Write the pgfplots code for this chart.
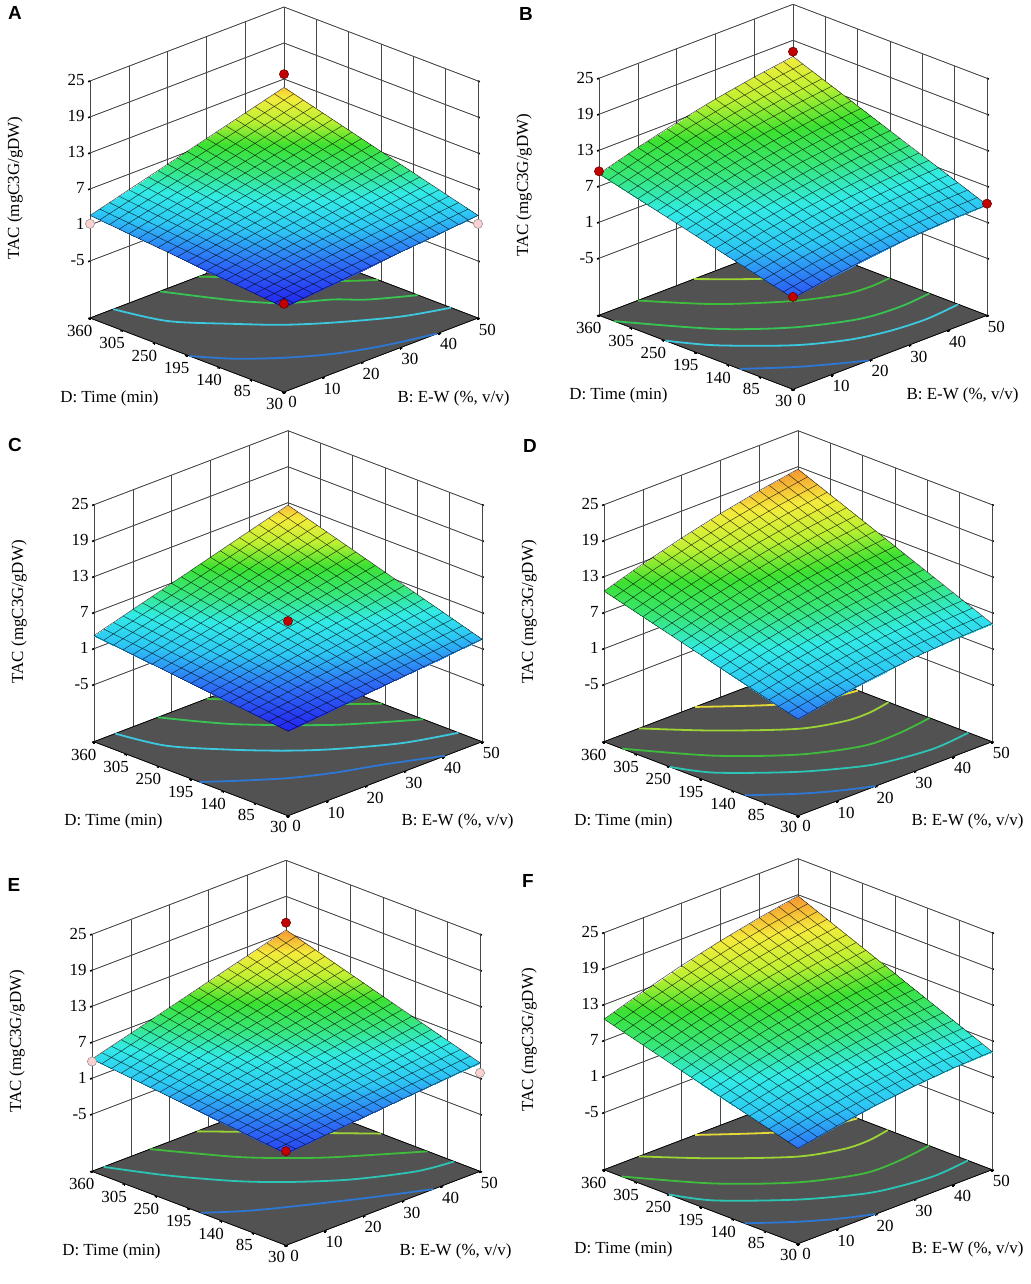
\documentclass[border=0pt]{standalone}
\usepackage{fontspec}
\setmainfont{Liberation Serif}
\newfontfamily\lsans{Liberation Sans}
\usepackage{pgfplots}
\pgfplotsset{compat=1.18}
\definecolor{floorgray}{RGB}{82,82,82}
\definecolor{gridgray}{RGB}{70,70,70}
\definecolor{cblue}{RGB}{44,120,212}
\definecolor{ccyan}{RGB}{60,200,222}
\definecolor{cteal}{RGB}{44,196,180}
\definecolor{cgreenA}{RGB}{56,196,84}
\definecolor{cgreenB}{RGB}{64,188,60}
\definecolor{cygreen}{RGB}{156,212,52}
\definecolor{cyellow}{RGB}{230,218,56}
\definecolor{dotred}{RGB}{196,0,0}
\definecolor{dotpink}{RGB}{250,208,208}
\newcommand\lab{\fontsize{17}{19}\selectfont}
\pgfplotsset{
  colormap={de}{rgb255=(35,35,240) rgb255=(45,110,245) rgb255=(45,200,245) rgb255=(50,235,230) rgb255=(55,230,120) rgb255=(60,225,50) rgb255=(190,240,50) rgb255=(245,235,60) rgb255=(245,150,50)},
  panel/.style={
    anchor=origin,
    x={(3.88bp,1.48bp)}, y={(-0.587879bp,0.224242bp)}, z={(0bp,6bp)},
    xmin=0, xmax=50, ymin=30, ymax=360, zmin=-14.5, zmax=25,
    xtick={0,10,20,30,40,50}, xticklabels={0,10,20,30,40,50},
    ytick={30,85,140,195,250,305,360}, yticklabels={30,85,140,195,250,305,360},
    ztick={-5,1,7,13,19,25}, zticklabels={-5,1,7,13,19,25},
    grid=major,
    major grid style={draw=gridgray, line width=0.6bp},
    axis line style={draw=gridgray, line width=0.6bp},
    tick pos=left,
    tick align=outside, major tick length=2bp,
    tick style={black, line width=1.6bp},
    tick label style={font=\lab},
    colormap name=de,
    clip=false,
  },
  ml/.style={black, opacity=0.72, line width=0.5bp, mark=none, unbounded coords=jump},
  ctr/.style={line width=1.8bp, mark=none, smooth},
  flr/.style={fill=floorgray, draw=black, line width=0.7bp, mark=none},
  reddot/.style={only marks, mark=*, mark size=4.6bp, mark options={fill=dotred, draw=red!35!black, line width=0.5bp}},
  pinkdot/.style={only marks, mark=*, mark size=4.6bp, mark options={fill=dotpink, draw=black!45, line width=0.5bp}},
}
% horizontal wall grid lines (z = -5,1,7,13,19) of a panel whose (B=0,D=30,z=0) point is at (#1bp,#2bp)
\newcommand\wallgrid[2]{%
\foreach \zz in {-30,6,42,78,114}{%
\draw[gridgray, line width=0.6bp] ({(#1-194)*1bp},{(#2+74+\zz)*1bp}) -- ({(#1)*1bp},{(#2+148+\zz)*1bp}) -- ({(#1+194)*1bp},{(#2+74+\zz)*1bp});}}
\newcommand\labels{%
\node[font=\lab, anchor=west] at (axis cs:28.35,30,-22.5) {B: E-W (\%, v/v)};
\node[font=\lab, anchor=east] at (axis cs:0,237.5,-23.25) {D: Time (min)};
\node[font=\lab, rotate=90] at (axis cs:0,487.6,2.4) {TAC (mgC3G/gDW)};}
\begin{document}
\begin{tikzpicture}
\useasboundingbox (0,0) rectangle (1031bp,-1284bp);
\wallgrid{284}{-305}
\wallgrid{793}{-302.3}
\wallgrid{288}{-728.7}
\wallgrid{798}{-728.7}
\wallgrid{286}{-1158.3}
\wallgrid{798}{-1156.7}
\node[font=\lsans\bfseries\fontsize{19}{21}\selectfont] at (15bp,-13bp) {A};
\node[font=\lsans\bfseries\fontsize{19}{21}\selectfont] at (526bp,-14bp) {B};
\node[font=\lsans\bfseries\fontsize{19}{21}\selectfont] at (15bp,-445bp) {C};
\node[font=\lsans\bfseries\fontsize{19}{21}\selectfont] at (530bp,-446bp) {D};
\node[font=\lsans\bfseries\fontsize{19}{21}\selectfont] at (14bp,-885bp) {E};
\node[font=\lsans\bfseries\fontsize{19}{21}\selectfont] at (528bp,-881bp) {F};

% ================= A =================
\begin{axis}[panel, at={(284bp,-305bp)}, point meta min=-0.4, point meta max=12.5]
\addplot3[flr] coordinates {(0,30,-14.5)(50,30,-14.5)(50,360,-14.5)(0,360,-14.5)(0,30,-14.5)};
\addplot3[ctr, cblue] coordinates {(0,190.7,-14.5)(4.8,146.8,-14.5)(11.6,106.2,-14.5)(19.4,72.6,-14.5)(28.5,48.5,-14.5)(39.5,30,-14.5)};
\addplot3[ctr, ccyan] coordinates {(6,360,-14.5)(9,287,-14.5)(16.5,225,-14.5)(22.7,180,-14.5)(30,142,-14.5)(40.5,99,-14.5)(50,76,-14.5)};
\addplot3[ctr, cgreenA] coordinates {(18,360,-14.5)(24.5,277,-14.5)(30,228,-14.5)(37.5,195,-14.5)(42,165,-14.5)(50,132,-14.5)};
\addplot3[ctr, cgreenB] coordinates {(28,360,-14.5)(33,322,-14.5)(44,235,-14.5)(50,200,-14.5)};
\addplot3[surf, shader=interp, mesh/rows=6, mesh/cols=6] coordinates {
(0,30,-0.4)(10,30,0.2)(20,30,0.8)(30,30,1.4)(40,30,2.0)(50,30,2.6)
(0,96,0.2)(10,96,1.04)(20,96,1.88)(30,96,2.72)(40,96,3.56)(50,96,4.4)
(0,162,0.8)(10,162,1.88)(20,162,2.96)(30,162,4.04)(40,162,5.12)(50,162,6.2)
(0,228,1.4)(10,228,2.72)(20,228,4.04)(30,228,5.36)(40,228,6.68)(50,228,8.0)
(0,294,2.0)(10,294,3.56)(20,294,5.12)(30,294,6.68)(40,294,8.24)(50,294,9.8)
(0,360,2.6)(10,360,4.4)(20,360,6.2)(30,360,8.0)(40,360,9.8)(50,360,11.6)};
\addplot3[ml] coordinates {
(0,30,-0.4)(0,360,2.6)(nan,nan,nan)(2.5,30,-0.25)(2.5,360,3.05)(nan,nan,nan)
(5,30,-0.1)(5,360,3.5)(nan,nan,nan)(7.5,30,0.05)(7.5,360,3.95)(nan,nan,nan)
(10,30,0.2)(10,360,4.4)(nan,nan,nan)(12.5,30,0.35)(12.5,360,4.85)(nan,nan,nan)
(15,30,0.5)(15,360,5.3)(nan,nan,nan)(17.5,30,0.65)(17.5,360,5.75)(nan,nan,nan)
(20,30,0.8)(20,360,6.2)(nan,nan,nan)(22.5,30,0.95)(22.5,360,6.65)(nan,nan,nan)
(25,30,1.1)(25,360,7.1)(nan,nan,nan)(27.5,30,1.25)(27.5,360,7.55)(nan,nan,nan)
(30,30,1.4)(30,360,8.0)(nan,nan,nan)(32.5,30,1.55)(32.5,360,8.45)(nan,nan,nan)
(35,30,1.7)(35,360,8.9)(nan,nan,nan)(37.5,30,1.85)(37.5,360,9.35)(nan,nan,nan)
(40,30,2.0)(40,360,9.8)(nan,nan,nan)(42.5,30,2.15)(42.5,360,10.25)(nan,nan,nan)
(45,30,2.3)(45,360,10.7)(nan,nan,nan)(47.5,30,2.45)(47.5,360,11.15)(nan,nan,nan)
(50,30,2.6)(50,360,11.6)};
\addplot3[ml] coordinates {
(0,30,-0.4)(50,30,2.6)(nan,nan,nan)(0,46.5,-0.25)(50,46.5,3.05)(nan,nan,nan)
(0,63,-0.1)(50,63,3.5)(nan,nan,nan)(0,79.5,0.05)(50,79.5,3.95)(nan,nan,nan)
(0,96,0.2)(50,96,4.4)(nan,nan,nan)(0,112.5,0.35)(50,112.5,4.85)(nan,nan,nan)
(0,129,0.5)(50,129,5.3)(nan,nan,nan)(0,145.5,0.65)(50,145.5,5.75)(nan,nan,nan)
(0,162,0.8)(50,162,6.2)(nan,nan,nan)(0,178.5,0.95)(50,178.5,6.65)(nan,nan,nan)
(0,195,1.1)(50,195,7.1)(nan,nan,nan)(0,211.5,1.25)(50,211.5,7.55)(nan,nan,nan)
(0,228,1.4)(50,228,8.0)(nan,nan,nan)(0,244.5,1.55)(50,244.5,8.45)(nan,nan,nan)
(0,261,1.7)(50,261,8.9)(nan,nan,nan)(0,277.5,1.85)(50,277.5,9.35)(nan,nan,nan)
(0,294,2.0)(50,294,9.8)(nan,nan,nan)(0,310.5,2.15)(50,310.5,10.25)(nan,nan,nan)
(0,327,2.3)(50,327,10.7)(nan,nan,nan)(0,343.5,2.45)(50,343.5,11.15)(nan,nan,nan)
(0,360,2.6)(50,360,11.6)};
\addplot3[pinkdot] coordinates {(0,360,1.2)(50,30,1.2)};
\addplot3[reddot] coordinates {(0,30,0.2)(50,360,13.8)};
\labels
\end{axis}

% ================= B =================
\begin{axis}[panel, at={(793bp,-302.3bp)}, point meta min=-0.9, point meta max=18.9]
\addplot3[flr] coordinates {(0,30,-14.5)(50,30,-14.5)(50,360,-14.5)(0,360,-14.5)(0,30,-14.5)};
\addplot3[ctr, cblue] coordinates {(0,121,-14.5)(7.5,79.5,-14.5)(14,51,-14.5)(19.5,30,-14.5)};
\addplot3[ctr, ccyan] coordinates {(0,247,-14.5)(4.9,194,-14.5)(14.9,128,-14.5)(23.9,93,-14.5)(32,78,-14.5)(41,73,-14.5)(50,79,-14.5)};
\addplot3[ctr, cgreenA] coordinates {(0,334,-14.5)(10.4,231,-14.5)(20.9,168,-14.5)(32.5,130,-14.5)(42,123,-14.5)(50,128,-14.5)};
\addplot3[ctr, cgreenB] coordinates {(10,360,-14.5)(18.8,286,-14.5)(29.8,227,-14.5)(38.8,198,-14.5)(45,193,-14.5)(50,196,-14.5)};
\addplot3[ctr, cygreen] coordinates {(24.5,360,-14.5)(33.3,303,-14.5)(42,268,-14.5)(50,254,-14.5)};
\addplot3[surf, shader=interp, mesh/rows=6, mesh/cols=6] coordinates {
(0,30,0.7)(10,30,1.82)(20,30,2.7)(30,30,3.34)(40,30,3.74)(50,30,3.9)
(0,96,2.38)(10,96,3.66)(20,96,4.7)(30,96,5.5)(40,96,6.06)(50,96,6.38)
(0,162,4.06)(10,162,5.5)(20,162,6.7)(30,162,7.66)(40,162,8.38)(50,162,8.86)
(0,228,5.74)(10,228,7.34)(20,228,8.7)(30,228,9.82)(40,228,10.7)(50,228,11.34)
(0,294,7.42)(10,294,9.18)(20,294,10.7)(30,294,11.98)(40,294,13.02)(50,294,13.82)
(0,360,9.1)(10,360,11.02)(20,360,12.7)(30,360,14.14)(40,360,15.34)(50,360,16.3)};
\addplot3[ml] coordinates {
(0,30,0.7)(0,360,9.1)(nan,nan,nan)(2.5,30,1.0)(2.5,360,9.6)(nan,nan,nan)
(5,30,1.29)(5,360,10.09)(nan,nan,nan)(7.5,30,1.56)(7.5,360,10.56)(nan,nan,nan)
(10,30,1.82)(10,360,11.02)(nan,nan,nan)(12.5,30,2.06)(12.5,360,11.46)(nan,nan,nan)
(15,30,2.29)(15,360,11.89)(nan,nan,nan)(17.5,30,2.5)(17.5,360,12.3)(nan,nan,nan)
(20,30,2.7)(20,360,12.7)(nan,nan,nan)(22.5,30,2.88)(22.5,360,13.08)(nan,nan,nan)
(25,30,3.05)(25,360,13.45)(nan,nan,nan)(27.5,30,3.2)(27.5,360,13.8)(nan,nan,nan)
(30,30,3.34)(30,360,14.14)(nan,nan,nan)(32.5,30,3.46)(32.5,360,14.46)(nan,nan,nan)
(35,30,3.57)(35,360,14.77)(nan,nan,nan)(37.5,30,3.66)(37.5,360,15.06)(nan,nan,nan)
(40,30,3.74)(40,360,15.34)(nan,nan,nan)(42.5,30,3.8)(42.5,360,15.6)(nan,nan,nan)
(45,30,3.85)(45,360,15.85)(nan,nan,nan)(47.5,30,3.88)(47.5,360,16.08)(nan,nan,nan)
(50,30,3.9)(50,360,16.3)};
\addplot3[ml] coordinates {
(0,30,0.7)(10,30,1.82)(20,30,2.7)(30,30,3.34)(40,30,3.74)(50,30,3.9)(nan,nan,nan)
(0,46.5,1.12)(10,46.5,2.28)(20,46.5,3.2)(30,46.5,3.88)(40,46.5,4.32)(50,46.5,4.52)(nan,nan,nan)
(0,63,1.54)(10,63,2.74)(20,63,3.7)(30,63,4.42)(40,63,4.9)(50,63,5.14)(nan,nan,nan)
(0,79.5,1.96)(10,79.5,3.2)(20,79.5,4.2)(30,79.5,4.96)(40,79.5,5.48)(50,79.5,5.76)(nan,nan,nan)
(0,96,2.38)(10,96,3.66)(20,96,4.7)(30,96,5.5)(40,96,6.06)(50,96,6.38)(nan,nan,nan)
(0,112.5,2.8)(10,112.5,4.12)(20,112.5,5.2)(30,112.5,6.04)(40,112.5,6.64)(50,112.5,7.0)(nan,nan,nan)
(0,129,3.22)(10,129,4.58)(20,129,5.7)(30,129,6.58)(40,129,7.22)(50,129,7.62)(nan,nan,nan)
(0,145.5,3.64)(10,145.5,5.04)(20,145.5,6.2)(30,145.5,7.12)(40,145.5,7.8)(50,145.5,8.24)(nan,nan,nan)
(0,162,4.06)(10,162,5.5)(20,162,6.7)(30,162,7.66)(40,162,8.38)(50,162,8.86)(nan,nan,nan)
(0,178.5,4.48)(10,178.5,5.96)(20,178.5,7.2)(30,178.5,8.2)(40,178.5,8.96)(50,178.5,9.48)(nan,nan,nan)
(0,195,4.9)(10,195,6.42)(20,195,7.7)(30,195,8.74)(40,195,9.54)(50,195,10.1)(nan,nan,nan)
(0,211.5,5.32)(10,211.5,6.88)(20,211.5,8.2)(30,211.5,9.28)(40,211.5,10.12)(50,211.5,10.72)(nan,nan,nan)
(0,228,5.74)(10,228,7.34)(20,228,8.7)(30,228,9.82)(40,228,10.7)(50,228,11.34)(nan,nan,nan)
(0,244.5,6.16)(10,244.5,7.8)(20,244.5,9.2)(30,244.5,10.36)(40,244.5,11.28)(50,244.5,11.96)(nan,nan,nan)
(0,261,6.58)(10,261,8.26)(20,261,9.7)(30,261,10.9)(40,261,11.86)(50,261,12.58)(nan,nan,nan)
(0,277.5,7.0)(10,277.5,8.72)(20,277.5,10.2)(30,277.5,11.44)(40,277.5,12.44)(50,277.5,13.2)(nan,nan,nan)
(0,294,7.42)(10,294,9.18)(20,294,10.7)(30,294,11.98)(40,294,13.02)(50,294,13.82)(nan,nan,nan)
(0,310.5,7.84)(10,310.5,9.64)(20,310.5,11.2)(30,310.5,12.52)(40,310.5,13.6)(50,310.5,14.44)(nan,nan,nan)
(0,327,8.26)(10,327,10.1)(20,327,11.7)(30,327,13.06)(40,327,14.18)(50,327,15.06)(nan,nan,nan)
(0,343.5,8.68)(10,343.5,10.56)(20,343.5,12.2)(30,343.5,13.6)(40,343.5,14.76)(50,343.5,15.68)(nan,nan,nan)
(0,360,9.1)(10,360,11.02)(20,360,12.7)(30,360,14.14)(40,360,15.34)(50,360,16.3)};
\addplot3[reddot] coordinates {(0,30,0.9)(0,360,9.5)(50,30,4.1)(50,360,17.1)};
\labels
\end{axis}

% ================= C =================
\begin{axis}[panel, at={(288bp,-728.7bp)}, point meta min=-0.4, point meta max=13.3]
\addplot3[flr] coordinates {(0,30,-14.5)(50,30,-14.5)(50,360,-14.5)(0,360,-14.5)(0,30,-14.5)};
\addplot3[ctr, cblue] coordinates {(0,180.5,-14.5)(5.7,148.8,-14.5)(12.7,113.8,-14.5)(20.5,86.4,-14.5)(29.8,62.3,-14.5)(40.5,30,-14.5)};
\addplot3[ctr, ccyan] coordinates {(5.5,360,-14.5)(8,289,-14.5)(15.3,223,-14.5)(22,175,-14.5)(28.5,139,-14.5)(39.2,95,-14.5)(50,70,-14.5)};
\addplot3[ctr, cgreenA] coordinates {(16.5,360,-14.5)(24,280,-14.5)(36.7,193,-14.5)(50,130,-14.5)};
\addplot3[ctr, cgreenB] coordinates {(29,360,-14.5)(34,320,-14.5)(44,238,-14.5)(50,200,-14.5)};
\addplot3[surf, shader=interp, mesh/rows=6, mesh/cols=6] coordinates {
(0,30,-0.4)(10,30,0.2)(20,30,0.8)(30,30,1.4)(40,30,2.0)(50,30,2.6)
(0,96,0.32)(10,96,1.176)(20,96,2.032)(30,96,2.888)(40,96,3.744)(50,96,4.6)
(0,162,1.04)(10,162,2.152)(20,162,3.264)(30,162,4.376)(40,162,5.488)(50,162,6.6)
(0,228,1.76)(10,228,3.128)(20,228,4.496)(30,228,5.864)(40,228,7.232)(50,228,8.6)
(0,294,2.48)(10,294,4.104)(20,294,5.728)(30,294,7.352)(40,294,8.976)(50,294,10.6)
(0,360,3.2)(10,360,5.08)(20,360,6.96)(30,360,8.84)(40,360,10.72)(50,360,12.6)};
\addplot3[ml] coordinates {
(0,30,-0.4)(0,360,3.2)(nan,nan,nan)(2.5,30,-0.25)(2.5,360,3.67)(nan,nan,nan)
(5,30,-0.1)(5,360,4.14)(nan,nan,nan)(7.5,30,0.05)(7.5,360,4.61)(nan,nan,nan)
(10,30,0.2)(10,360,5.08)(nan,nan,nan)(12.5,30,0.35)(12.5,360,5.55)(nan,nan,nan)
(15,30,0.5)(15,360,6.02)(nan,nan,nan)(17.5,30,0.65)(17.5,360,6.49)(nan,nan,nan)
(20,30,0.8)(20,360,6.96)(nan,nan,nan)(22.5,30,0.95)(22.5,360,7.43)(nan,nan,nan)
(25,30,1.1)(25,360,7.9)(nan,nan,nan)(27.5,30,1.25)(27.5,360,8.37)(nan,nan,nan)
(30,30,1.4)(30,360,8.84)(nan,nan,nan)(32.5,30,1.55)(32.5,360,9.31)(nan,nan,nan)
(35,30,1.7)(35,360,9.78)(nan,nan,nan)(37.5,30,1.85)(37.5,360,10.25)(nan,nan,nan)
(40,30,2.0)(40,360,10.72)(nan,nan,nan)(42.5,30,2.15)(42.5,360,11.19)(nan,nan,nan)
(45,30,2.3)(45,360,11.66)(nan,nan,nan)(47.5,30,2.45)(47.5,360,12.13)(nan,nan,nan)
(50,30,2.6)(50,360,12.6)};
\addplot3[ml] coordinates {
(0,30,-0.4)(50,30,2.6)(nan,nan,nan)(0,46.5,-0.22)(50,46.5,3.1)(nan,nan,nan)
(0,63,-0.04)(50,63,3.6)(nan,nan,nan)(0,79.5,0.14)(50,79.5,4.1)(nan,nan,nan)
(0,96,0.32)(50,96,4.6)(nan,nan,nan)(0,112.5,0.5)(50,112.5,5.1)(nan,nan,nan)
(0,129,0.68)(50,129,5.6)(nan,nan,nan)(0,145.5,0.86)(50,145.5,6.1)(nan,nan,nan)
(0,162,1.04)(50,162,6.6)(nan,nan,nan)(0,178.5,1.22)(50,178.5,7.1)(nan,nan,nan)
(0,195,1.4)(50,195,7.6)(nan,nan,nan)(0,211.5,1.58)(50,211.5,8.1)(nan,nan,nan)
(0,228,1.76)(50,228,8.6)(nan,nan,nan)(0,244.5,1.94)(50,244.5,9.1)(nan,nan,nan)
(0,261,2.12)(50,261,9.6)(nan,nan,nan)(0,277.5,2.3)(50,277.5,10.1)(nan,nan,nan)
(0,294,2.48)(50,294,10.6)(nan,nan,nan)(0,310.5,2.66)(50,310.5,11.1)(nan,nan,nan)
(0,327,2.84)(50,327,11.6)(nan,nan,nan)(0,343.5,3.02)(50,343.5,12.1)(nan,nan,nan)
(0,360,3.2)(50,360,12.6)};
\addplot3[reddot] coordinates {(25,195,5.6)};
\labels
\end{axis}

% ================= D =================
\begin{axis}[panel, at={(798bp,-728.7bp)}, point meta min=-0.9, point meta max=18.6]
\addplot3[flr] coordinates {(0,30,-14.5)(50,30,-14.5)(50,360,-14.5)(0,360,-14.5)(0,30,-14.5)};
\addplot3[ctr, cblue] coordinates {(0,121,-14.5)(7.4,79,-14.5)(13.5,52,-14.5)(20,30,-14.5)};
\addplot3[ctr, cteal] coordinates {(0,248,-14.5)(3.8,197,-14.5)(14.8,128,-14.5)(25.5,84,-14.5)(33,70,-14.5)(41,64,-14.5)(50,70,-14.5)};
\addplot3[ctr, cgreenB] coordinates {(0,329,-14.5)(9.5,235,-14.5)(20.7,166,-14.5)(32,130,-14.5)(41,128,-14.5)(50,136,-14.5)};
\addplot3[ctr, cygreen] coordinates {(9,360,-14.5)(18,291,-14.5)(29.3,224,-14.5)(38,201,-14.5)(44,199,-14.5)(50,206,-14.5)};
\addplot3[ctr, cyellow] coordinates {(23.5,360,-14.5)(34.5,297,-14.5)(43,268,-14.5)(50,258,-14.5)};
\addplot3[surf, shader=interp, mesh/rows=6, mesh/cols=6] coordinates {
(0,30,1.6)(10,30,2.8)(20,30,3.76)(30,30,4.48)(40,30,4.96)(50,30,5.2)
(0,96,3.4)(10,96,4.776)(20,96,5.912)(30,96,6.808)(40,96,7.464)(50,96,7.88)
(0,162,5.2)(10,162,6.752)(20,162,8.064)(30,162,9.136)(40,162,9.968)(50,162,10.56)
(0,228,7.0)(10,228,8.728)(20,228,10.216)(30,228,11.464)(40,228,12.472)(50,228,13.24)
(0,294,8.8)(10,294,10.704)(20,294,12.368)(30,294,13.792)(40,294,14.976)(50,294,15.92)
(0,360,10.6)(10,360,12.68)(20,360,14.52)(30,360,16.12)(40,360,17.48)(50,360,18.6)};
\addplot3[ml] coordinates {
(0,30,1.6)(0,360,10.6)(nan,nan,nan)(2.5,30,1.92)(2.5,360,11.14)(nan,nan,nan)
(5,30,2.23)(5,360,11.67)(nan,nan,nan)(7.5,30,2.52)(7.5,360,12.18)(nan,nan,nan)
(10,30,2.8)(10,360,12.68)(nan,nan,nan)(12.5,30,3.06)(12.5,360,13.16)(nan,nan,nan)
(15,30,3.31)(15,360,13.63)(nan,nan,nan)(17.5,30,3.54)(17.5,360,14.08)(nan,nan,nan)
(20,30,3.76)(20,360,14.52)(nan,nan,nan)(22.5,30,3.96)(22.5,360,14.94)(nan,nan,nan)
(25,30,4.15)(25,360,15.35)(nan,nan,nan)(27.5,30,4.32)(27.5,360,15.74)(nan,nan,nan)
(30,30,4.48)(30,360,16.12)(nan,nan,nan)(32.5,30,4.62)(32.5,360,16.48)(nan,nan,nan)
(35,30,4.75)(35,360,16.83)(nan,nan,nan)(37.5,30,4.86)(37.5,360,17.16)(nan,nan,nan)
(40,30,4.96)(40,360,17.48)(nan,nan,nan)(42.5,30,5.04)(42.5,360,17.78)(nan,nan,nan)
(45,30,5.11)(45,360,18.07)(nan,nan,nan)(47.5,30,5.16)(47.5,360,18.34)(nan,nan,nan)
(50,30,5.2)(50,360,18.6)};
\addplot3[ml] coordinates {
(0,30,1.6)(10,30,2.8)(20,30,3.76)(30,30,4.48)(40,30,4.96)(50,30,5.2)(nan,nan,nan)
(0,46.5,2.05)(10,46.5,3.294)(20,46.5,4.298)(30,46.5,5.062)(40,46.5,5.586)(50,46.5,5.87)(nan,nan,nan)
(0,63,2.5)(10,63,3.788)(20,63,4.836)(30,63,5.644)(40,63,6.212)(50,63,6.54)(nan,nan,nan)
(0,79.5,2.95)(10,79.5,4.282)(20,79.5,5.374)(30,79.5,6.226)(40,79.5,6.838)(50,79.5,7.21)(nan,nan,nan)
(0,96,3.4)(10,96,4.776)(20,96,5.912)(30,96,6.808)(40,96,7.464)(50,96,7.88)(nan,nan,nan)
(0,112.5,3.85)(10,112.5,5.27)(20,112.5,6.45)(30,112.5,7.39)(40,112.5,8.09)(50,112.5,8.55)(nan,nan,nan)
(0,129,4.3)(10,129,5.764)(20,129,6.988)(30,129,7.972)(40,129,8.716)(50,129,9.22)(nan,nan,nan)
(0,145.5,4.75)(10,145.5,6.258)(20,145.5,7.526)(30,145.5,8.554)(40,145.5,9.342)(50,145.5,9.89)(nan,nan,nan)
(0,162,5.2)(10,162,6.752)(20,162,8.064)(30,162,9.136)(40,162,9.968)(50,162,10.56)(nan,nan,nan)
(0,178.5,5.65)(10,178.5,7.246)(20,178.5,8.602)(30,178.5,9.718)(40,178.5,10.594)(50,178.5,11.23)(nan,nan,nan)
(0,195,6.1)(10,195,7.74)(20,195,9.14)(30,195,10.3)(40,195,11.22)(50,195,11.9)(nan,nan,nan)
(0,211.5,6.55)(10,211.5,8.234)(20,211.5,9.678)(30,211.5,10.882)(40,211.5,11.846)(50,211.5,12.57)(nan,nan,nan)
(0,228,7.0)(10,228,8.728)(20,228,10.216)(30,228,11.464)(40,228,12.472)(50,228,13.24)(nan,nan,nan)
(0,244.5,7.45)(10,244.5,9.222)(20,244.5,10.754)(30,244.5,12.046)(40,244.5,13.098)(50,244.5,13.91)(nan,nan,nan)
(0,261,7.9)(10,261,9.716)(20,261,11.292)(30,261,12.628)(40,261,13.724)(50,261,14.58)(nan,nan,nan)
(0,277.5,8.35)(10,277.5,10.21)(20,277.5,11.83)(30,277.5,13.21)(40,277.5,14.35)(50,277.5,15.25)(nan,nan,nan)
(0,294,8.8)(10,294,10.704)(20,294,12.368)(30,294,13.792)(40,294,14.976)(50,294,15.92)(nan,nan,nan)
(0,310.5,9.25)(10,310.5,11.198)(20,310.5,12.906)(30,310.5,14.374)(40,310.5,15.602)(50,310.5,16.59)(nan,nan,nan)
(0,327,9.7)(10,327,11.692)(20,327,13.444)(30,327,14.956)(40,327,16.228)(50,327,17.26)(nan,nan,nan)
(0,343.5,10.15)(10,343.5,12.186)(20,343.5,13.982)(30,343.5,15.538)(40,343.5,16.854)(50,343.5,17.93)(nan,nan,nan)
(0,360,10.6)(10,360,12.68)(20,360,14.52)(30,360,16.12)(40,360,17.48)(50,360,18.6)};
\labels
\end{axis}

% ================= E =================
\begin{axis}[panel, at={(286bp,-1158.3bp)}, point meta min=0.1, point meta max=13.4]
\addplot3[flr] coordinates {(0,30,-14.5)(50,30,-14.5)(50,360,-14.5)(0,360,-14.5)(0,30,-14.5)};
\addplot3[ctr, cblue] coordinates {(0,175,-14.5)(6,143,-14.5)(12.9,115,-14.5)(26.4,67,-14.5)(38,30,-14.5)};
\addplot3[ctr, cteal] coordinates {(3,360,-14.5)(8.3,287,-14.5)(15,218,-14.5)(21.4,171,-14.5)(30.5,122,-14.5)(41.8,84,-14.5)(50,74,-14.5)};
\addplot3[ctr, cgreenB] coordinates {(15,360,-14.5)(23.2,272,-14.5)(29,228,-14.5)(35.9,186,-14.5)(50,119,-14.5)};
\addplot3[ctr, cygreen] coordinates {(27,360,-14.5)(33,318,-14.5)(44,240,-14.5)(50,198,-14.5)};
\addplot3[surf, shader=interp, mesh/rows=6, mesh/cols=6] coordinates {
(0,30,0.8)(10,30,1.36)(20,30,1.92)(30,30,2.48)(40,30,3.04)(50,30,3.6)
(0,96,1.48)(10,96,2.296)(20,96,3.112)(30,96,3.928)(40,96,4.744)(50,96,5.56)
(0,162,2.16)(10,162,3.232)(20,162,4.304)(30,162,5.376)(40,162,6.448)(50,162,7.52)
(0,228,2.84)(10,228,4.168)(20,228,5.496)(30,228,6.824)(40,228,8.152)(50,228,9.48)
(0,294,3.52)(10,294,5.104)(20,294,6.688)(30,294,8.272)(40,294,9.856)(50,294,11.44)
(0,360,4.2)(10,360,6.04)(20,360,7.88)(30,360,9.72)(40,360,11.56)(50,360,13.4)};
\addplot3[ml] coordinates {
(0,30,0.8)(0,360,4.2)(nan,nan,nan)(2.5,30,0.94)(2.5,360,4.66)(nan,nan,nan)
(5,30,1.08)(5,360,5.12)(nan,nan,nan)(7.5,30,1.22)(7.5,360,5.58)(nan,nan,nan)
(10,30,1.36)(10,360,6.04)(nan,nan,nan)(12.5,30,1.5)(12.5,360,6.5)(nan,nan,nan)
(15,30,1.64)(15,360,6.96)(nan,nan,nan)(17.5,30,1.78)(17.5,360,7.42)(nan,nan,nan)
(20,30,1.92)(20,360,7.88)(nan,nan,nan)(22.5,30,2.06)(22.5,360,8.34)(nan,nan,nan)
(25,30,2.2)(25,360,8.8)(nan,nan,nan)(27.5,30,2.34)(27.5,360,9.26)(nan,nan,nan)
(30,30,2.48)(30,360,9.72)(nan,nan,nan)(32.5,30,2.62)(32.5,360,10.18)(nan,nan,nan)
(35,30,2.76)(35,360,10.64)(nan,nan,nan)(37.5,30,2.9)(37.5,360,11.1)(nan,nan,nan)
(40,30,3.04)(40,360,11.56)(nan,nan,nan)(42.5,30,3.18)(42.5,360,12.02)(nan,nan,nan)
(45,30,3.32)(45,360,12.48)(nan,nan,nan)(47.5,30,3.46)(47.5,360,12.94)(nan,nan,nan)
(50,30,3.6)(50,360,13.4)};
\addplot3[ml] coordinates {
(0,30,0.8)(50,30,3.6)(nan,nan,nan)(0,46.5,0.97)(50,46.5,4.09)(nan,nan,nan)
(0,63,1.14)(50,63,4.58)(nan,nan,nan)(0,79.5,1.31)(50,79.5,5.07)(nan,nan,nan)
(0,96,1.48)(50,96,5.56)(nan,nan,nan)(0,112.5,1.65)(50,112.5,6.05)(nan,nan,nan)
(0,129,1.82)(50,129,6.54)(nan,nan,nan)(0,145.5,1.99)(50,145.5,7.03)(nan,nan,nan)
(0,162,2.16)(50,162,7.52)(nan,nan,nan)(0,178.5,2.33)(50,178.5,8.01)(nan,nan,nan)
(0,195,2.5)(50,195,8.5)(nan,nan,nan)(0,211.5,2.67)(50,211.5,8.99)(nan,nan,nan)
(0,228,2.84)(50,228,9.48)(nan,nan,nan)(0,244.5,3.01)(50,244.5,9.97)(nan,nan,nan)
(0,261,3.18)(50,261,10.46)(nan,nan,nan)(0,277.5,3.35)(50,277.5,10.95)(nan,nan,nan)
(0,294,3.52)(50,294,11.44)(nan,nan,nan)(0,310.5,3.69)(50,310.5,11.93)(nan,nan,nan)
(0,327,3.86)(50,327,12.42)(nan,nan,nan)(0,343.5,4.03)(50,343.5,12.91)(nan,nan,nan)
(0,360,4.2)(50,360,13.4)};
\addplot3[pinkdot] coordinates {(0,360,3.8)(50,30,1.9)};
\addplot3[reddot] coordinates {(0,30,1.2)(50,360,14.6)};
\labels
\end{axis}

% ================= F =================
\begin{axis}[panel, at={(798bp,-1156.7bp)}, point meta min=-1.2, point meta max=18.8]
\addplot3[flr] coordinates {(0,30,-14.5)(50,30,-14.5)(50,360,-14.5)(0,360,-14.5)(0,30,-14.5)};
\addplot3[ctr, cblue] coordinates {(0,121,-14.5)(7.4,79,-14.5)(13.5,52,-14.5)(20,30,-14.5)};
\addplot3[ctr, cteal] coordinates {(0,250,-14.5)(3.8,198,-14.5)(14.8,129,-14.5)(25.5,85,-14.5)(33,71,-14.5)(41,65,-14.5)(50,71,-14.5)};
\addplot3[ctr, cgreenB] coordinates {(0,330,-14.5)(9.5,236,-14.5)(20.7,167,-14.5)(32,131,-14.5)(41,129,-14.5)(50,137,-14.5)};
\addplot3[ctr, cygreen] coordinates {(9,360,-14.5)(18,292,-14.5)(29.3,225,-14.5)(38,202,-14.5)(44,200,-14.5)(50,207,-14.5)};
\addplot3[ctr, cyellow] coordinates {(23.5,360,-14.5)(34.5,298,-14.5)(43,269,-14.5)(50,259,-14.5)};
\addplot3[surf, shader=interp, mesh/rows=6, mesh/cols=6] coordinates {
(0,30,1.4)(10,30,2.64)(20,30,3.64)(30,30,4.4)(40,30,4.92)(50,30,5.2)
(0,96,3.24)(10,96,4.656)(20,96,5.832)(30,96,6.768)(40,96,7.464)(50,96,7.92)
(0,162,5.08)(10,162,6.672)(20,162,8.024)(30,162,9.136)(40,162,10.008)(50,162,10.64)
(0,228,6.92)(10,228,8.688)(20,228,10.216)(30,228,11.504)(40,228,12.552)(50,228,13.36)
(0,294,8.76)(10,294,10.704)(20,294,12.408)(30,294,13.872)(40,294,15.096)(50,294,16.08)
(0,360,10.6)(10,360,12.72)(20,360,14.6)(30,360,16.24)(40,360,17.64)(50,360,18.8)};
\addplot3[ml] coordinates {
(0,30,1.4)(0,360,10.6)(nan,nan,nan)(2.5,30,1.73)(2.5,360,11.15)(nan,nan,nan)
(5,30,2.05)(5,360,11.69)(nan,nan,nan)(7.5,30,2.35)(7.5,360,12.21)(nan,nan,nan)
(10,30,2.64)(10,360,12.72)(nan,nan,nan)(12.5,30,2.91)(12.5,360,13.21)(nan,nan,nan)
(15,30,3.17)(15,360,13.69)(nan,nan,nan)(17.5,30,3.41)(17.5,360,14.15)(nan,nan,nan)
(20,30,3.64)(20,360,14.6)(nan,nan,nan)(22.5,30,3.85)(22.5,360,15.03)(nan,nan,nan)
(25,30,4.05)(25,360,15.45)(nan,nan,nan)(27.5,30,4.23)(27.5,360,15.85)(nan,nan,nan)
(30,30,4.4)(30,360,16.24)(nan,nan,nan)(32.5,30,4.55)(32.5,360,16.61)(nan,nan,nan)
(35,30,4.69)(35,360,16.97)(nan,nan,nan)(37.5,30,4.81)(37.5,360,17.31)(nan,nan,nan)
(40,30,4.92)(40,360,17.64)(nan,nan,nan)(42.5,30,5.01)(42.5,360,17.95)(nan,nan,nan)
(45,30,5.09)(45,360,18.25)(nan,nan,nan)(47.5,30,5.15)(47.5,360,18.53)(nan,nan,nan)
(50,30,5.2)(50,360,18.8)};
\addplot3[ml] coordinates {
(0,30,1.4)(10,30,2.64)(20,30,3.64)(30,30,4.4)(40,30,4.92)(50,30,5.2)(nan,nan,nan)
(0,46.5,1.86)(10,46.5,3.144)(20,46.5,4.188)(30,46.5,4.992)(40,46.5,5.556)(50,46.5,5.88)(nan,nan,nan)
(0,63,2.32)(10,63,3.648)(20,63,4.736)(30,63,5.584)(40,63,6.192)(50,63,6.56)(nan,nan,nan)
(0,79.5,2.78)(10,79.5,4.152)(20,79.5,5.284)(30,79.5,6.176)(40,79.5,6.828)(50,79.5,7.24)(nan,nan,nan)
(0,96,3.24)(10,96,4.656)(20,96,5.832)(30,96,6.768)(40,96,7.464)(50,96,7.92)(nan,nan,nan)
(0,112.5,3.7)(10,112.5,5.16)(20,112.5,6.38)(30,112.5,7.36)(40,112.5,8.1)(50,112.5,8.6)(nan,nan,nan)
(0,129,4.16)(10,129,5.664)(20,129,6.928)(30,129,7.952)(40,129,8.736)(50,129,9.28)(nan,nan,nan)
(0,145.5,4.62)(10,145.5,6.168)(20,145.5,7.476)(30,145.5,8.544)(40,145.5,9.372)(50,145.5,9.96)(nan,nan,nan)
(0,162,5.08)(10,162,6.672)(20,162,8.024)(30,162,9.136)(40,162,10.008)(50,162,10.64)(nan,nan,nan)
(0,178.5,5.54)(10,178.5,7.176)(20,178.5,8.572)(30,178.5,9.728)(40,178.5,10.644)(50,178.5,11.32)(nan,nan,nan)
(0,195,6.0)(10,195,7.68)(20,195,9.12)(30,195,10.32)(40,195,11.28)(50,195,12.0)(nan,nan,nan)
(0,211.5,6.46)(10,211.5,8.184)(20,211.5,9.668)(30,211.5,10.912)(40,211.5,11.916)(50,211.5,12.68)(nan,nan,nan)
(0,228,6.92)(10,228,8.688)(20,228,10.216)(30,228,11.504)(40,228,12.552)(50,228,13.36)(nan,nan,nan)
(0,244.5,7.38)(10,244.5,9.192)(20,244.5,10.764)(30,244.5,12.096)(40,244.5,13.188)(50,244.5,14.04)(nan,nan,nan)
(0,261,7.84)(10,261,9.696)(20,261,11.312)(30,261,12.688)(40,261,13.824)(50,261,14.72)(nan,nan,nan)
(0,277.5,8.3)(10,277.5,10.2)(20,277.5,11.86)(30,277.5,13.28)(40,277.5,14.46)(50,277.5,15.4)(nan,nan,nan)
(0,294,8.76)(10,294,10.704)(20,294,12.408)(30,294,13.872)(40,294,15.096)(50,294,16.08)(nan,nan,nan)
(0,310.5,9.22)(10,310.5,11.208)(20,310.5,12.956)(30,310.5,14.464)(40,310.5,15.732)(50,310.5,16.76)(nan,nan,nan)
(0,327,9.68)(10,327,11.712)(20,327,13.504)(30,327,15.056)(40,327,16.368)(50,327,17.44)(nan,nan,nan)
(0,343.5,10.14)(10,343.5,12.216)(20,343.5,14.052)(30,343.5,15.648)(40,343.5,17.004)(50,343.5,18.12)(nan,nan,nan)
(0,360,10.6)(10,360,12.72)(20,360,14.6)(30,360,16.24)(40,360,17.64)(50,360,18.8)};
\labels
\end{axis}
\end{tikzpicture}
\end{document}
